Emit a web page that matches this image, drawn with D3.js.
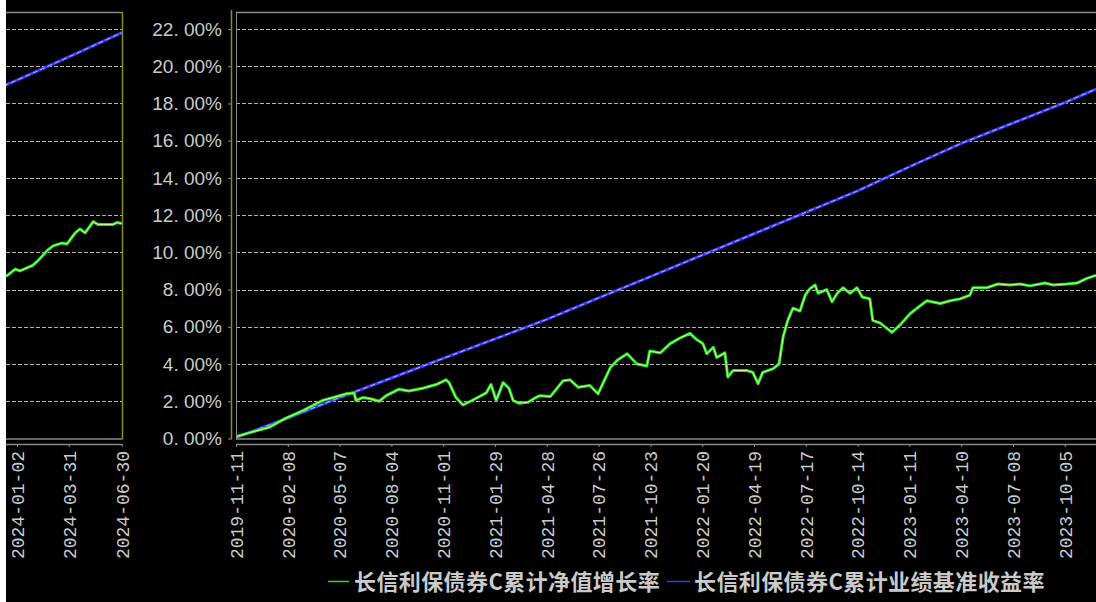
<!DOCTYPE html>
<html lang="zh">
<head>
<meta charset="UTF-8">
<title>长信利保债券C</title>
<script src="https://cdn.jsdelivr.net/npm/d3@7/dist/d3.min.js"></script>
<style>
    body { margin: 0; padding: 0; background: #000; }
    svg { display: block; }
</style>
</head>
<body>
<svg width="1096" height="602" id="mainsvg"></svg>
<script>
    // ---- data ----
    const navDates = [
        "2019-11-11", "2019-11-14", "2019-12-03", "2020-01-07", "2020-02-05", "2020-03-05", "2020-04-08",
        "2020-04-26", "2020-05-18", "2020-06-01", "2020-06-04", "2020-06-16", "2020-06-27", "2020-07-14",
        "2020-07-26", "2020-08-17", "2020-09-03", "2020-09-27", "2020-10-20", "2020-11-06", "2020-11-11",
        "2020-11-23", "2020-12-05", "2020-12-27", "2021-01-14", "2021-01-22", "2021-01-31", "2021-02-12",
        "2021-02-22", "2021-03-01", "2021-03-11", "2021-03-27", "2021-04-09", "2021-04-16", "2021-05-04",
        "2021-05-26", "2021-06-07", "2021-06-21", "2021-07-11", "2021-07-25", "2021-08-15", "2021-08-27",
        "2021-09-13", "2021-09-30", "2021-10-17", "2021-10-22", "2021-11-09", "2021-11-26", "2021-12-13",
        "2021-12-30", "2022-01-11", "2022-01-21", "2022-01-28", "2022-02-08", "2022-02-14", "2022-02-28",
        "2022-03-05", "2022-03-14", "2022-04-07", "2022-04-17", "2022-04-26", "2022-05-04", "2022-05-22",
        "2022-06-01", "2022-06-08", "2022-06-16", "2022-06-25", "2022-07-07", "2022-07-16", "2022-07-24",
        "2022-08-02", "2022-08-07", "2022-08-22", "2022-08-31", "2022-09-09", "2022-09-19", "2022-10-01",
        "2022-10-13", "2022-10-22", "2022-11-04", "2022-11-09", "2022-11-22", "2022-12-12", "2022-12-26",
        "2023-01-12", "2023-01-24", "2023-02-10", "2023-03-05", "2023-03-22", "2023-04-08", "2023-04-25",
        "2023-04-30", "2023-05-24", "2023-06-12", "2023-07-03", "2023-07-20", "2023-08-06", "2023-09-01",
        "2023-09-15", "2023-10-09", "2023-10-26", "2023-11-12", "2023-11-26", "2023-12-16", "2023-12-30",
        "2024-01-07", "2024-01-29", "2024-02-07", "2024-02-23", "2024-03-04", "2024-03-19", "2024-03-28",
        "2024-04-11", "2024-04-19", "2024-04-28", "2024-05-12", "2024-05-20", "2024-05-29", "2024-06-15",
        "2024-06-22", "2024-06-30"
    ];
    const navValues = [
        0.05, 0.13, 0.30, 0.60, 1.10, 1.50, 2.05,
        2.20, 2.40, 2.45, 2.05, 2.20, 2.15, 2.00,
        2.30, 2.65, 2.55, 2.70, 2.90, 3.15, 3.00,
        2.20, 1.80, 2.15, 2.45, 2.90, 2.05, 3.00,
        2.70, 2.05, 1.90, 1.95, 2.20, 2.30, 2.25,
        3.10, 3.15, 2.75, 2.85, 2.40, 3.80, 4.20,
        4.55, 4.00, 3.90, 4.70, 4.60, 5.10, 5.40,
        5.65, 5.30, 5.10, 4.55, 4.90, 4.35, 4.60,
        3.30, 3.65, 3.65, 3.55, 2.95, 3.55, 3.75,
        4.00, 5.45, 6.35, 7.00, 6.85, 7.70, 8.05,
        8.25, 7.80, 8.00, 7.35, 7.80, 8.10, 7.80,
        8.10, 7.60, 7.50, 6.35, 6.20, 5.70, 6.10,
        6.70, 7.00, 7.40, 7.25, 7.40, 7.50, 7.70,
        8.10, 8.10, 8.30, 8.25, 8.30, 8.20, 8.35,
        8.25, 8.30, 8.35, 8.60, 8.75, 8.75, 9.10,
        9.00, 9.30, 9.55, 10.10, 10.35, 10.50, 10.45,
        11.05, 11.25, 11.05, 11.65, 11.50, 11.50, 11.50,
        11.60, 11.55
    ];
    const benchDates = [
        "2019-11-11", "2020-02-08", "2020-05-07", "2020-08-04", "2020-11-01", "2021-01-29", "2021-04-28",
        "2021-07-26", "2021-10-23", "2022-01-20", "2022-04-19", "2022-07-17", "2022-10-14", "2023-01-11",
        "2023-04-10", "2023-07-08", "2023-10-05", "2024-01-02", "2024-03-31", "2024-06-30"
    ];
    const benchValues = [
        0.05, 1.10, 2.20, 3.25, 4.30, 5.35, 6.40,
        7.55, 8.70, 9.85, 11.00, 12.15, 13.30, 14.60,
        15.85, 16.95, 18.05, 19.25, 20.50, 21.80
    ];
    const mainTickLabels = [
        "2019-11-11", "2020-02-08", "2020-05-07", "2020-08-04", "2020-11-01", "2021-01-29", "2021-04-28",
        "2021-07-26", "2021-10-23", "2022-01-20", "2022-04-19", "2022-07-17", "2022-10-14", "2023-01-11",
        "2023-04-10", "2023-07-08", "2023-10-05"
    ];
    const leftTickLabels = ["2024-01-02", "2024-03-31", "2024-06-30"];
    const yTicks = [0, 2, 4, 6, 8, 10, 12, 14, 16, 18, 20, 22];
    const seriesNames = ["长信利保债券C累计净值增长率", "长信利保债券C累计业绩基准收益率"];

    // ---- layout ----
    const svg = d3.select("#mainsvg");
    const W = 1096, H = 602;
    const plotTop = 12, plotBottom = 438.5;
    const mainLeft = 236, leftL = 6, leftR = 122;
    const pxPerDay = 51.8 / 89;
    const shift = 1099.6;   // left strip shows the tail of the same timeline
    const parse = d3.timeParse("%Y-%m-%d");
    const fmt = d3.timeFormat("%Y-%m-%d");
    const t0 = parse("2019-11-11"), t1 = parse("2024-06-30");
    const spanDays = (t1 - t0) / 864e5;

    const xMain = d3.scaleTime().domain([t0, t1]).range([mainLeft, mainLeft + spanDays * pxPerDay]);
    const xLeft = xMain.copy().range(xMain.range().map(v => v - shift));
    const y = d3.scaleLinear().domain([0, 22]).range([plotBottom, 29]);

    const gridCol = "#b8b898", frameCol = "#8a8a8a", olive = "#8c8c1e", textCol = "#cacaca";

    svg.append("rect").attr("width", W).attr("height", H).attr("fill", "#000");
    svg.append("rect").attr("width", leftL).attr("height", H).attr("fill", "#fff");

    const defs = svg.append("defs");
    defs.append("clipPath").attr("id", "clipMain").append("rect")
        .attr("x", mainLeft).attr("y", 0).attr("width", W - mainLeft).attr("height", plotBottom + 1);
    defs.append("clipPath").attr("id", "clipLeft").append("rect")
        .attr("x", leftL).attr("y", 0).attr("width", leftR - leftL).attr("height", plotBottom + 1);

    const nav = navDates.map((d, i) => ({date: parse(d), v: navValues[i]}));
    const bench = benchDates.map((d, i) => ({date: parse(d), v: benchValues[i]}));

    function panel(x, x0, x1, clipId, tickLabels) {
        const g = svg.append("g");
        // grid
        g.selectAll(".grid").data(yTicks.filter(v => v > 0)).join("line")
            .attr("x1", x0).attr("x2", x1)
            .attr("y1", d => Math.round(y(d)) + 0.5).attr("y2", d => Math.round(y(d)) + 0.5)
            .attr("stroke", gridCol).attr("stroke-dasharray", "4,2");
        // frame top / bottom
        g.append("line").attr("x1", x0).attr("x2", x1).attr("y1", plotTop + 0.5).attr("y2", plotTop + 0.5)
            .attr("stroke", frameCol).attr("stroke-width", 1.5);
        g.append("line").attr("x1", x0).attr("x2", x1).attr("y1", plotBottom + 0.5).attr("y2", plotBottom + 0.5)
            .attr("stroke", frameCol).attr("stroke-width", 1.5);

        const plot = g.append("g").attr("clip-path", "url(#" + clipId + ")");
        const line = d3.line().x(d => x(d.date)).y(d => y(d.v));
        plot.append("path").datum(bench).attr("d", line)
            .attr("fill", "none").attr("stroke", "#3a3aff").attr("stroke-width", 3);
        plot.append("path").datum(bench).attr("d", line)
            .attr("fill", "none").attr("stroke", "#b8b8ff").attr("stroke-width", 1)
            .attr("stroke-dasharray", "5,3");
        plot.append("path").datum(nav).attr("d", line)
            .attr("fill", "none").attr("stroke", "#22e022").attr("stroke-width", 3)
            .attr("stroke-linejoin", "round");
        plot.append("path").datum(nav).attr("d", line)
            .attr("fill", "none").attr("stroke", "#c8ff90").attr("stroke-width", 1)
            .attr("stroke-linejoin", "round");

        // x axis
        const ax = g.append("g").attr("transform", "translate(0,444)")
            .call(d3.axisBottom(x).tickValues(tickLabels.map(parse)).tickFormat(fmt).tickSize(3).tickSizeOuter(0));
        ax.select(".domain").remove();
        ax.append("line").attr("x1", x0).attr("x2", Math.min(x1, W)).attr("y1", 0.5).attr("y2", 0.5)
            .attr("stroke", frameCol).attr("stroke-width", 1.5);
        ax.selectAll(".tick line").attr("stroke", frameCol);
        ax.selectAll(".tick text")
            .attr("transform", "rotate(-90)")
            .attr("x", -7).attr("y", 0).attr("dy", "0.35em")
            .attr("text-anchor", "end")
            .attr("fill", textCol)
            .attr("font-family", "'Liberation Mono', 'DejaVu Sans Mono', monospace")
            .attr("font-size", 18);
        return g;
    }

    panel(xLeft, leftL, leftR, "clipLeft", leftTickLabels);
    panel(xMain, mainLeft, W, "clipMain", mainTickLabels);

    // frame verticals
    svg.append("line").attr("x1", leftR + 0.5).attr("x2", leftR + 0.5).attr("y1", plotTop).attr("y2", plotBottom + 1)
        .attr("stroke", olive).attr("stroke-width", 1.5);
    svg.append("line").attr("x1", mainLeft + 0.5).attr("x2", mainLeft + 0.5).attr("y1", plotTop).attr("y2", plotBottom + 1)
        .attr("stroke", frameCol);

    // y axis
    const ay = svg.append("g").attr("transform", "translate(231,0)")
        .call(d3.axisLeft(y).tickValues(yTicks)
            .tickFormat(d => d3.format(".2f")(d).replace(".", ". ") + "%")
            .tickSize(3).tickPadding(6).tickSizeOuter(0));
    ay.select(".domain").attr("stroke", olive).attr("stroke-width", 1.5)
        .attr("d", "M0.5," + (plotTop - 2) + "V" + (plotBottom + 1));
    ay.selectAll(".tick line").attr("stroke", frameCol);
    ay.selectAll(".tick text")
        .attr("fill", textCol)
        .attr("font-family", "'Liberation Sans', Arial, sans-serif")
        .attr("font-size", 19);

    // legend
    const legend = svg.append("g").attr("font-family", "'Noto Sans CJK SC', sans-serif")
        .attr("font-size", 22).attr("font-weight", "bold").attr("fill", textCol);
    const legendItems = [
        {x1: 328, x2: 349, tx: 354, color: "#22e022", name: seriesNames[0]},
        {x1: 667, x2: 690, tx: 694, color: "#3a3aff", name: seriesNames[1]}
    ];
    legendItems.forEach(it => {
        legend.append("line").attr("x1", it.x1).attr("x2", it.x2).attr("y1", 581.5).attr("y2", 581.5)
            .attr("stroke", it.color).attr("stroke-width", 1.5);
        legend.append("text").attr("x", it.tx).attr("y", 582).attr("dy", "0.36em")
            .attr("letter-spacing", 0.4).text(it.name);
    });
</script>
</body>
</html>
